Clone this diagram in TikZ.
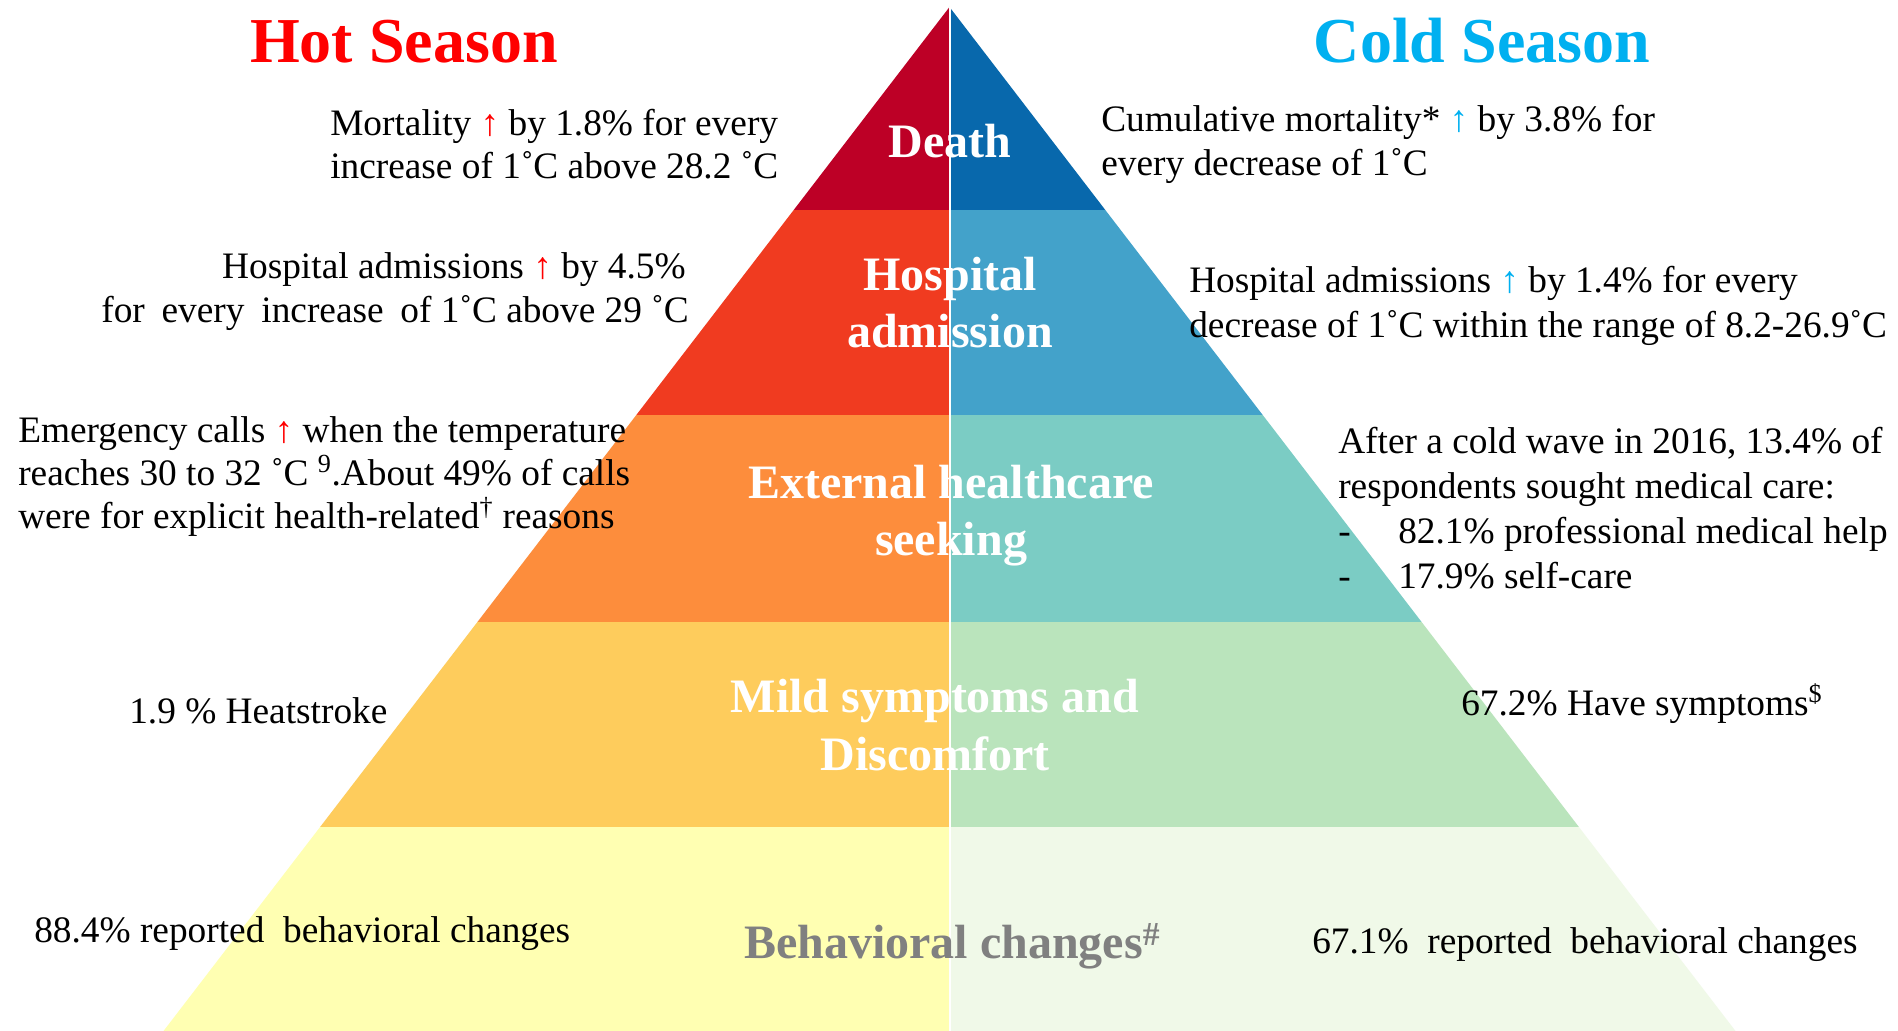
\documentclass[tikz,border=0pt]{standalone}
\usepackage{fontspec}
\setmainfont{Liberation Serif}
\usetikzlibrary{positioning}

% ColorBrewer YlOrRd (hot) and GnBu (cold)
\definecolor{hotA}{HTML}{BD0026}
\definecolor{hotB}{HTML}{F03B20}
\definecolor{hotC}{HTML}{FD8D3C}
\definecolor{hotD}{HTML}{FECC5C}
\definecolor{hotE}{HTML}{FFFFB2}
\definecolor{coldA}{HTML}{0868AC}
\definecolor{coldB}{HTML}{43A2CA}
\definecolor{coldC}{HTML}{7BCCC4}
\definecolor{coldD}{HTML}{BAE4BC}
\definecolor{coldE}{HTML}{F0F9E8}
\definecolor{hotred}{HTML}{FF0000}
\definecolor{coldblue}{HTML}{00B0F0}
\definecolor{tiergray}{HTML}{808080}

\newcommand{\hotup}{\textcolor{hotred}{↑}}
\newcommand{\coldup}{\textcolor{coldblue}{↑}}
\newcommand{\wsp}{\hspace{0.45em}}

\tikzset{
  title/.style={font=\fontsize{48}{56}\selectfont\bfseries, anchor=base, inner sep=0pt},
  tier/.style={font=\fontsize{36}{43}\selectfont\bfseries, text=white, anchor=base, inner sep=0pt},
  note/.style={font=\fontsize{28}{34}\selectfont, anchor=base west, inner sep=0pt},
  noteR/.style={note, anchor=base east},
}

\begin{document}
\begin{tikzpicture}[x=0.75pt, y=-0.75pt]
\useasboundingbox (0,0) rectangle (1898,1031);
\fill[white] (0,0) rectangle (1898,1031);

% ---- pyramid, left (hot) half ----
\fill[hotA] (949.5,7) -- (793.7,210) -- (949.5,210) -- cycle;
\fill[hotB] (793.7,210) -- (636.3,415) -- (949.5,415) -- (949.5,210) -- cycle;
\fill[hotC] (636.3,415) -- (477.4,622) -- (949.5,622) -- (949.5,415) -- cycle;
\fill[hotD] (477.4,622) -- (320.1,827) -- (949.5,827) -- (949.5,622) -- cycle;
\fill[hotE] (320.1,827) -- (163.5,1031) -- (949.5,1031) -- (949.5,827) -- cycle;

% ---- pyramid, right (cold) half ----
\fill[coldA] (949.5,7) -- (1105.3,210) -- (949.5,210) -- cycle;
\fill[coldB] (1105.3,210) -- (1262.7,415) -- (949.5,415) -- (949.5,210) -- cycle;
\fill[coldC] (1262.7,415) -- (1421.6,622) -- (949.5,622) -- (949.5,415) -- cycle;
\fill[coldD] (1421.6,622) -- (1578.9,827) -- (949.5,827) -- (949.5,622) -- cycle;
\fill[coldE] (1578.9,827) -- (1735.5,1031) -- (949.5,1031) -- (949.5,827) -- cycle;

% white seam between the halves
\coordinate (apex) at (949.5,7);
\coordinate (basemid) at (949.5,1031);
\draw[white, line width=1.5pt] (apex) -- (basemid);

% ---- headings ----
\node[title, text=hotred] (hot) at (404,63) {Hot Season};
\node[title, text=coldblue] (cold) at (1482,63) {Cold Season};

% ---- tier labels ----
\node[tier] (death) at (950,157) {Death};
\node[tier] (hosp1) at (950,290) {Hospital};
\node[tier] (hosp2) at (950,347) {admission};
\node[tier] (ext1) at (951,498) {External healthcare};
\node[tier] (ext2) at (951,555) {seeking};
\node[tier] (mild1) at (935,712) {Mild symptoms and};
\node[tier] (mild2) at (935,770) {Discomfort};
\node[tier, text=tiergray, anchor=base west] (behav) at (744,958) {Behavioral changes\textsuperscript{\#}};

% ---- hot season notes ----
\node[note] (hm1) at (330,135) {Mortality \hotup{} by 1.8\% for every};
\node[note] (hm2) at (330,178) {increase of 1˚C above 28.2 ˚C};
\node[noteR] (hh1) at (686,278) {Hospital admissions \hotup{} by 4.5\%};
\node[noteR] (hh2) at (689,322) {for\wsp every\wsp increase\wsp of 1˚C above 29 ˚C};
\node[note] (he1) at (18,442) {Emergency calls \hotup{} when the temperature};
\node[note] (he2) at (18,485) {reaches 30 to 32 ˚C \textsuperscript{9}.About 49\% of calls};
\node[note] (he3) at (18,528) {were for explicit health-related\textsuperscript{†} reasons};
\node[note] (hs) at (129,723) {1.9 \% Heatstroke};
\node[note] (hb) at (34,942) {88.4\% reported~ behavioral changes};

% ---- cold season notes ----
\node[note] (cm1) at (1101,132) {Cumulative mortality* \coldup{} by 3.8\% for};
\node[note] (cm2) at (1101,175) {every decrease of 1˚C};
\node[note] (ch1) at (1189,292) {Hospital admissions \coldup{} by 1.4\% for every};
\node[note] (ch2) at (1189,337) {decrease of 1˚C within the range of 8.2-26.9˚C};
\node[note] (ce1) at (1338,453) {After a cold wave in 2016, 13.4\% of};
\node[note] (ce2) at (1338,498) {respondents sought medical care:};
\node[note] (ce3d) at (1338,543) {-};
\node[note] (ce3) at (1398,543) {82.1\% professional medical help};
\node[note] (ce4d) at (1338,588) {-};
\node[note] (ce4) at (1398,588) {17.9\% self-care};
\node[note] (cs) at (1461,715) {67.2\% Have symptoms\textsuperscript{\$}};
\node[note] (cb) at (1312,953) {67.1\%~ reported~ behavioral changes};
\end{tikzpicture}
\end{document}
